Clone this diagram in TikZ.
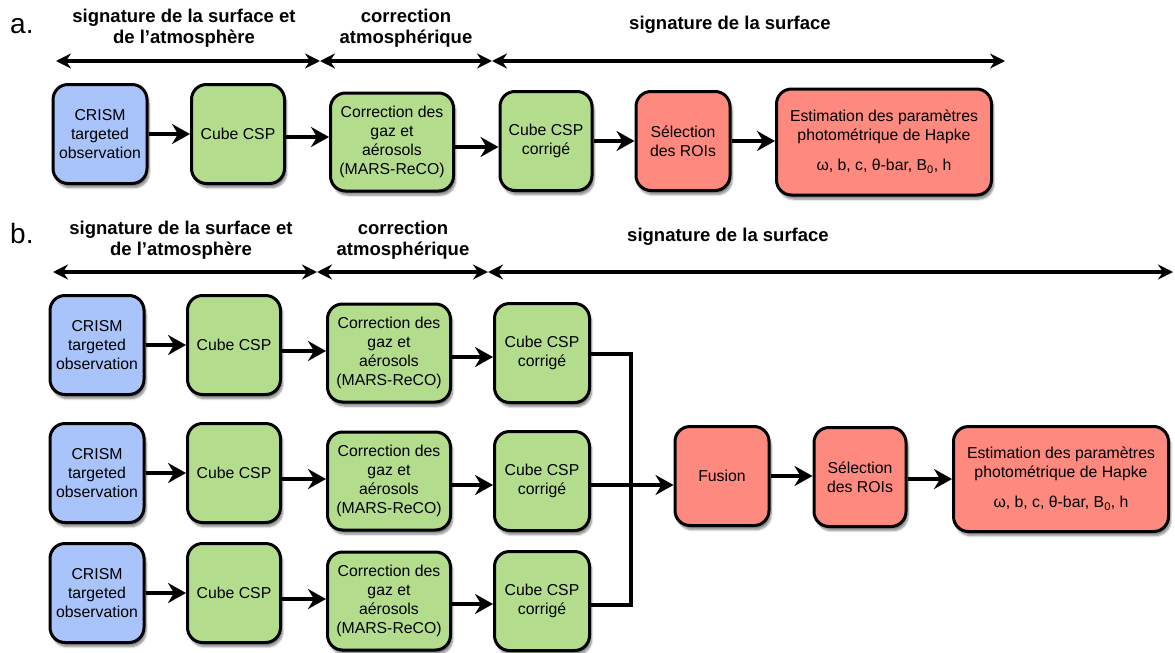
\documentclass[tikz,border=0pt]{standalone}
\usepackage{fontspec}
\setmainfont{Liberation Sans}
\usepackage{tikz}
\usetikzlibrary{arrows.meta,shadows.blur}
\definecolor{crismblue}{HTML}{A9C4FA}
\definecolor{cubegreen}{HTML}{B3DD8D}
\definecolor{hapkered}{HTML}{FE8A7F}

\begin{document}
\begin{tikzpicture}[x=1pt,y=-1pt,
  flowbox/.style={draw,line width=3pt,rounded corners=15pt,align=center,inner sep=2pt,
    font=\fontsize{15.8}{19}\selectfont,minimum width=93pt,minimum height=99pt,
    blur shadow={shadow xshift=2pt,shadow yshift=-4pt,shadow blur steps=8,shadow opacity=50}},
  crism/.style={flowbox,fill=crismblue,minimum width=94pt},
  cube/.style={flowbox,fill=cubegreen},
  corr/.style={flowbox,fill=cubegreen,minimum width=123pt,minimum height=98pt},
  surf/.style={flowbox,fill=hapkered,minimum width=94pt},
  hapke/.style={flowbox,fill=hapkered,minimum width=215pt,minimum height=106pt},
  flow/.style={-{Stealth[length=18pt,width=20pt,inset=6pt]},line width=4pt},
  span/.style={{Stealth[length=15pt,width=15pt,inset=5pt]}-{Stealth[length=15pt,width=15pt,inset=5pt]},line width=3.5pt},
  head/.style={align=center,inner sep=0pt,font=\fontsize{18.5}{21.5}\selectfont\bfseries},
  panel/.style={anchor=base west,inner sep=0pt,font=\fontsize{28}{30}\selectfont}]
  \useasboundingbox (0,0) rectangle (1175,653);

  % panel a
  \node[panel] (la) at (10,33) {a.};
  \node[head] (ta1) at (184,28) {signature de la surface et\\de l’atmosphère};
  \node[head] (ta2) at (406,28) {correction\\atmosphérique};
  \node[head] (ta3) at (730,25) {signature de la surface};
  \coordinate (ha0) at (56,61);
  \coordinate (ha1) at (320,61);
  \coordinate (ha2) at (492,61);
  \coordinate (ha3) at (1005,61);
  \draw[span] (ha0) -- (ha1);
  \draw[span] (ha1) -- (ha2);
  \draw[span] (ha2) -- (ha3);

  \node[crism] (a1) at (100,134) {CRISM\\targeted\\observation};
  \node[cube] (a2) at (238,134) {Cube CSP};
  \node[corr] (a3) at (392,142) {Correction des\\gaz et\\aérosols\\(MARS-ReCO)};
  \node[cube,minimum width=92pt] (a4) at (546,141) {Cube CSP\\corrigé};
  \node[surf] (a5) at (683,141) {Sélection\\des ROIs};
  \node[hapke] (a6) at (884,142) {Estimation des paramètres\\photométrique de Hapke\\[11pt]ω, b, c, θ-bar, B\textsubscript{0}, h};
  \draw[flow] (a1.east) -- (a1.east -| a2.west);
  \draw[flow] ([yshift=-3pt]a2.east) -- ([yshift=-3pt]a2.east -| a3.west);
  \draw[flow] ([yshift=-5pt]a3.east) -- ([yshift=-5pt]a3.east -| a4.west);
  \draw[flow] (a4.east) -- (a4.east -| a5.west);
  \draw[flow] (a5.east) -- (a5.east -| a6.west);

  % panel b
  \node[panel] (lb) at (10,243) {b.};
  \node[head] (tb1) at (181,240) {signature de la surface et\\de l’atmosphère};
  \node[head] (tb2) at (403,240) {correction\\atmosphérique};
  \node[head] (tb3) at (728,237) {signature de la surface};
  \coordinate (hb0) at (53,272);
  \coordinate (hb1) at (317,272);
  \coordinate (hb2) at (488,272);
  \coordinate (hb3) at (1173,272);
  \draw[span] (hb0) -- (hb1);
  \draw[span] (hb1) -- (hb2);
  \draw[span] (hb2) -- (hb3);

  \node[crism] (b11) at (97,345) {CRISM\\targeted\\observation};
  \node[cube] (b12) at (234,345) {Cube CSP};
  \node[corr] (b13) at (389,353) {Correction des\\gaz et\\aérosols\\(MARS-ReCO)};
  \node[cube,minimum width=95pt] (b14) at (542,353) {Cube CSP\\corrigé};
  \node[crism] (b21) at (97,473) {CRISM\\targeted\\observation};
  \node[cube] (b22) at (234,473) {Cube CSP};
  \node[corr] (b23) at (389,481) {Correction des\\gaz et\\aérosols\\(MARS-ReCO)};
  \node[cube,minimum width=95pt] (b24) at (542,481) {Cube CSP\\corrigé};
  \node[crism] (b31) at (97,593) {CRISM\\targeted\\observation};
  \node[cube] (b32) at (234,593) {Cube CSP};
  \node[corr] (b33) at (389,601) {Correction des\\gaz et\\aérosols\\(MARS-ReCO)};
  \node[cube,minimum width=95pt] (b34) at (542,601) {Cube CSP\\corrigé};
  \node[surf] (fus) at (722,476) {Fusion};
  \node[surf,minimum width=92pt] (b5) at (860,477) {Sélection\\des ROIs};
  \node[hapke,minimum height=105pt] (b6) at (1061,479) {Estimation des paramètres\\photométrique de Hapke\\[11pt]ω, b, c, θ-bar, B\textsubscript{0}, h};

  \draw[flow] (b11.east) -- (b11.east -| b12.west);
  \draw[flow] ([yshift=-6pt]b12.east) -- ([yshift=-6pt]b12.east -| b13.west);
  \draw[flow] ([yshift=-4pt]b13.east) -- ([yshift=-4pt]b13.east -| b14.west);
  \draw[flow] (b21.east) -- (b21.east -| b22.west);
  \draw[flow] ([yshift=-6pt]b22.east) -- ([yshift=-6pt]b22.east -| b23.west);
  \draw[flow] ([yshift=-4pt]b23.east) -- ([yshift=-4pt]b23.east -| b24.west);
  \draw[flow] (b31.east) -- (b31.east -| b32.west);
  \draw[flow] ([yshift=-6pt]b32.east) -- ([yshift=-6pt]b32.east -| b33.west);
  \draw[flow] ([yshift=-3pt]b33.east) -- ([yshift=-3pt]b33.east -| b34.west);

  % merge of the three corrected cubes
  \coordinate (jn) at (631,477);
  \draw[line width=3.5pt] ([yshift=-1pt]b14.east) -- ([yshift=-1pt]b14.east -| jn) -- ([yshift=-4pt]b34.east -| jn) -- ([yshift=-4pt]b34.east);
  \draw[flow] ([yshift=-4pt]b24.east) -- ([yshift=-4pt]b24.east -| fus.west);
  \draw[flow] (fus.east) -- (fus.east -| b5.west);
  \draw[flow] ([yshift=-2pt]b5.east) -- ([yshift=-2pt]b5.east -| b6.west);
\end{tikzpicture}
\end{document}
